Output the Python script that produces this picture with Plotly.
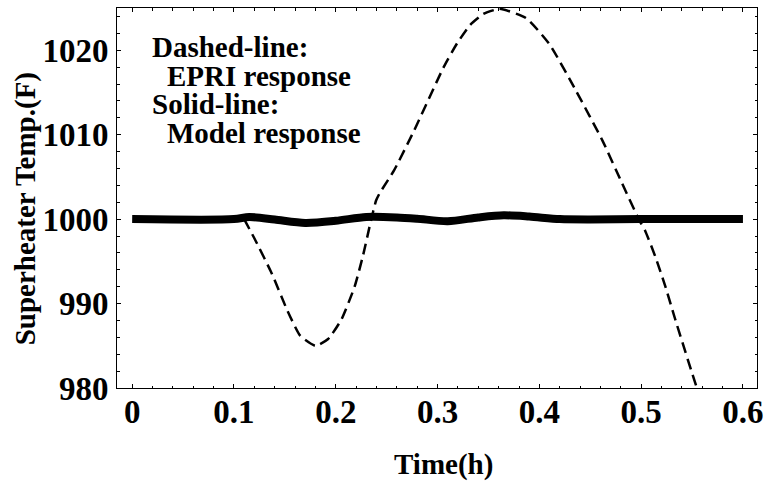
import plotly.graph_objects as go

# EPRI response (dashed)
epri_t = [0.11, 0.121, 0.137, 0.152, 0.165, 0.18, 0.1925, 0.2055, 0.2185, 0.2266,
          0.2347, 0.2396, 0.2428, 0.2574, 0.277, 0.306, 0.3191, 0.332, 0.345, 0.361,
          0.387, 0.41, 0.436, 0.462, 0.4814, 0.4976, 0.504, 0.5138, 0.5236, 0.5333,
          0.5545, 0.56]
epri_T = [1000.0, 997.5, 993.6, 989.3, 986.2, 985.0, 985.8, 988.1, 992.0, 995.6,
          999.9, 1002.2, 1003.0, 1005.8, 1010.5, 1018.0, 1020.8, 1023.0, 1024.3, 1024.9,
          1023.8, 1020.7, 1015.2, 1009.3, 1004.2, 1000.0, 998.6, 995.6, 992.1, 988.2,
          980.1, 978.4]

# Model response (solid)
model_t = [0.0, 0.1, 0.115, 0.14, 0.17, 0.2, 0.23, 0.26, 0.28, 0.31, 0.34, 0.365,
           0.39, 0.42, 0.45, 0.5, 0.55, 0.6]
model_T = [1000.0, 1000.0, 1000.25, 999.95, 999.55, 999.8, 1000.25, 1000.2, 1000.05,
           999.75, 1000.2, 1000.45, 1000.3, 1000.0, 999.95, 1000.0, 1000.0, 1000.0]

x_ticks = [0, 0.1, 0.2, 0.3, 0.4, 0.5, 0.6]
x_ticklabels = ["0", "0.1", "0.2", "0.3", "0.4", "0.5", "0.6"]
y_ticks = [980, 990, 1000, 1010, 1020]
y_ticklabels = ["980", "990", "1000", "1010", "1020"]

FONT = "Liberation Serif, Times New Roman, serif"
FS_TICK = 33
FS_TEXT = 29

fig = go.Figure()
fig.add_trace(go.Scatter(x=epri_t, y=epri_T, mode="lines",
                         line=dict(color="black", width=2.5, dash="11px,6px", shape="spline", smoothing=0.5),
                         showlegend=False, hoverinfo="skip"))
fig.add_trace(go.Scatter(x=model_t, y=model_T, mode="lines",
                         line=dict(color="black", width=8, shape="spline", smoothing=0.8),
                         showlegend=False, hoverinfo="skip"))

axis_common = dict(showgrid=False, zeroline=False, showline=True, linecolor="black",
                   linewidth=1, mirror="allticks", ticks="inside", ticklen=4,
                   tickwidth=1, tickcolor="black",
                   tickfont=dict(family=FONT, size=FS_TICK, color="black", weight="bold"))

fig.update_xaxes(range=[-0.0149, 0.6138], tickvals=x_ticks, ticktext=x_ticklabels,
                 ticklabelstandoff=-6,
                 minor=dict(ticks="inside", ticklen=2.5, dtick=0.02, tick0=0,
                            tickcolor="black", tickwidth=1, showgrid=False),
                 **axis_common)
fig.update_yaxes(range=[980, 1025], tickvals=y_ticks, ticktext=y_ticklabels,
                 ticklabelstandoff=1,
                 minor=dict(ticks="inside", ticklen=2.5, dtick=2, tick0=980,
                            tickcolor="black", tickwidth=1, showgrid=False),
                 **axis_common)

W, H = 770, 483
L, R, T, B = 117, 7, 7, 95
pw, ph = W - L - R, H - T - B

def px(xp):
    return (xp - L) / pw

def py(yp):
    return 1 - (yp - T) / ph

tf = dict(family=FONT, size=FS_TEXT, color="black", weight="bold")
legend_lines = [("Dashed-line:", 150, 46), ("EPRI response", 165, 75),
                ("Solid-line:", 150, 103), ("Model response", 165, 132)]
for txt, xp, yp in legend_lines:
    fig.add_annotation(text=txt, x=px(xp), y=py(yp), xref="paper", yref="paper",
                       xanchor="left", yanchor="middle", showarrow=False, font=tf)

fig.add_annotation(text="Time(h)", x=px(447), y=py(465), xref="paper", yref="paper",
                   xanchor="center", yanchor="middle", showarrow=False, font=tf)
fig.add_annotation(text="Superheater Temp.(F)", x=px(25), y=py(208), xref="paper", yref="paper",
                   xanchor="center", yanchor="middle", showarrow=False, textangle=-90, font=tf)

fig.update_layout(width=W, height=H, margin=dict(l=L, r=R, t=T, b=B),
                  paper_bgcolor="white", plot_bgcolor="white")

fig.write_html("out.html")
